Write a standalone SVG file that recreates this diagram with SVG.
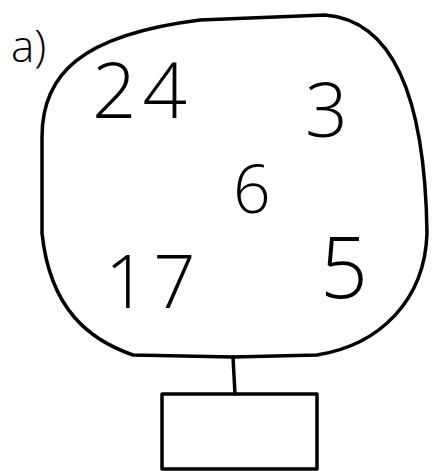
<svg xmlns="http://www.w3.org/2000/svg" width="432" height="471" viewBox="0 0 432 471">
<style>
.ln{fill:none;stroke:#000;stroke-width:3.5;stroke-linecap:round;stroke-linejoin:round}
.num{font-family:"Open Sans","Liberation Sans",sans-serif;font-weight:300;fill:#000}
</style>
<rect width="432" height="471" fill="#fff"/>
<text class="num" x="11" y="62" font-size="44" font-weight="400">a)</text>
<g id="set">
<path class="ln" d="M200,20 L325,15 C390,20 425,90 427,233 C425,300 380,345 317,355 L233,357 L133,355 C90,340 50,310 42,233 L42,137 C42,75 80,35 200,20 Z"/>
<text class="num" x="92" y="118" font-size="78" letter-spacing="6">24</text>
<text class="num" x="305" y="137" font-size="75">3</text>
<text class="num" x="233" y="213" font-size="66">6</text>
<text class="num" x="105" y="308" font-size="74" letter-spacing="6">17</text>
<text class="num" x="320" y="298" font-size="84">5</text>
</g>
<g id="connectors">
<path class="ln" d="M233,357 L235,394"/>
</g>
<g id="box">
<rect class="ln" x="162" y="394" width="155" height="75"/>
</g>
</svg>
